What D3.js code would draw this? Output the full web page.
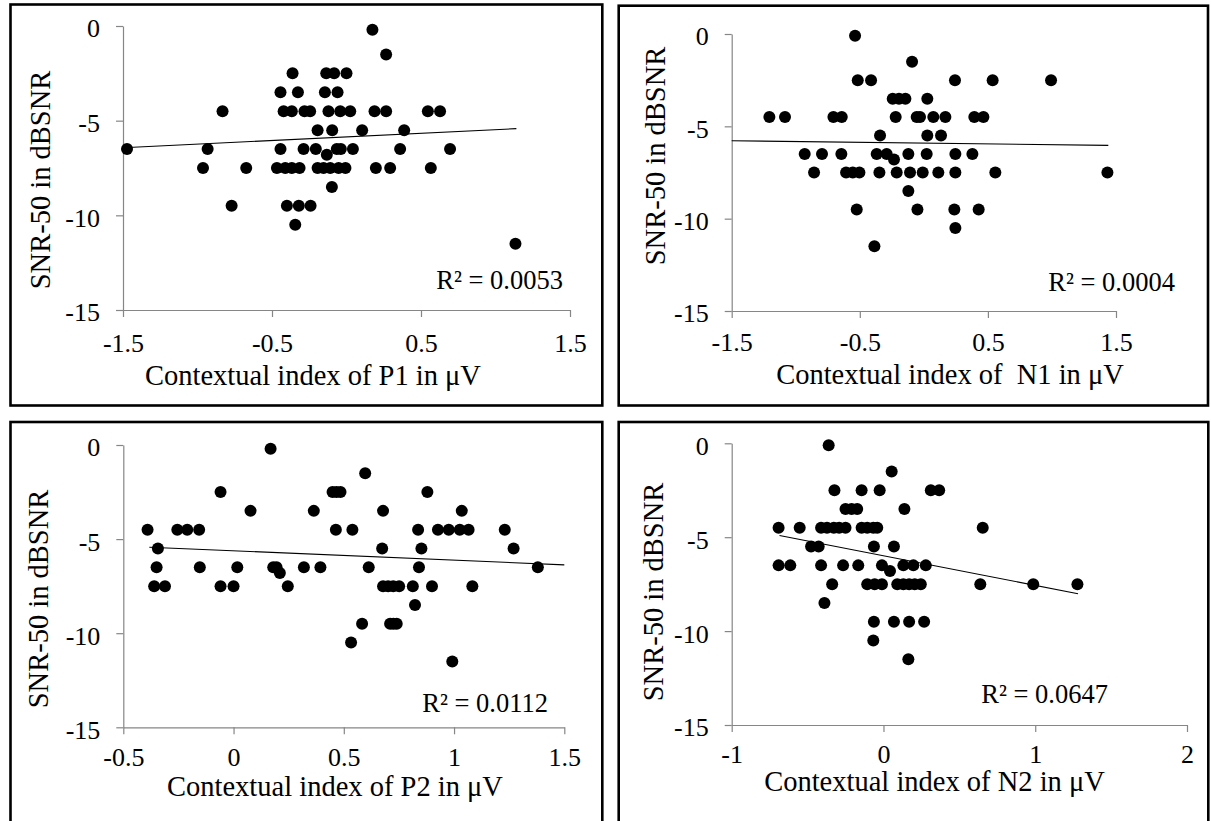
<!DOCTYPE html>
<html>
<head>
<meta charset="utf-8">
<script src="https://cdn.jsdelivr.net/npm/d3@7"></script>
<style>
  html, body { margin: 0; padding: 0; background: #ffffff; }
  svg { display: block; }
  text { font-family: "Liberation Serif", "Times New Roman", serif; fill: #000; }
</style>
</head>
<body>
<script>
// ---------------- DATA ----------------
const yTicks = [0, -5, -10, -15];

// Panel 1: Contextual index of P1
const p1Title = "Contextual index of P1 in μV";
const p1XTicks = [-1.5, -0.5, 0.5, 1.5];
const p1X = [0.174, 0.266,
  -0.362, -0.136, -0.083, 0.0,
  -0.443, -0.326, -0.145, -0.06,
  -0.832, -0.422, -0.367, -0.282, -0.244, -0.121, -0.042, 0.025, 0.188, 0.266, 0.546, 0.628,
  -0.194, -0.096, 0.105, 0.387,
  -1.473, -0.932, -0.443, -0.288, -0.206, -0.065, -0.038, 0.043, 0.36, 0.695,
  -0.132,
  -0.963, -0.673, -0.467, -0.411, -0.367, -0.315, -0.194, -0.154, -0.109, -0.053, -0.007, 0.197, 0.293, 0.566,
  -0.098,
  -0.771, -0.4, -0.32, -0.241,
  -0.344,
  1.134];
const p1Y = [-0.2, -1.5,
  -2.5, -2.5, -2.5, -2.5,
  -3.5, -3.5, -3.5, -3.5,
  -4.5, -4.5, -4.5, -4.5, -4.5, -4.5, -4.5, -4.5, -4.5, -4.5, -4.5, -4.5,
  -5.5, -5.5, -5.5, -5.5,
  -6.5, -6.5, -6.5, -6.5, -6.5, -6.5, -6.5, -6.5, -6.5, -6.5,
  -6.8,
  -7.5, -7.5, -7.5, -7.5, -7.5, -7.5, -7.5, -7.5, -7.5, -7.5, -7.5, -7.5, -7.5, -7.5,
  -8.5,
  -9.5, -9.5, -9.5, -9.5,
  -10.5,
  -11.5];
const p1TrendX = [-1.5, 1.14];
const p1TrendY = [-6.43, -5.42];
const p1R2 = "R² = 0.0053";

// Panel 2: Contextual index of N1
const n1Title = "Contextual index of  N1 in μV";
const n1XTicks = [-1.5, -0.5, 0.5, 1.5];
const n1X = [-0.537, -0.092,
  -0.516, -0.412, 0.243, 0.537, 0.993,
  -0.243, -0.194, -0.144, 0.027,
  -1.206, -1.084, -0.706, -0.641, -0.22, -0.056, -0.03, 0.074, 0.168, 0.394, 0.465,
  -0.342, 0.027, 0.134,
  -0.93, -0.795, -0.644, -0.368, -0.29, -0.121, 0.022, 0.246, 0.379,
  -0.233,
  -0.857, -0.607, -0.555, -0.503, -0.347, -0.212, -0.108, -0.009, 0.113, 0.246, 0.558, 1.433,
  -0.121,
  -0.524, -0.05, 0.238, 0.428,
  0.246,
  -0.386];
const n1Y = [-0.1, -1.5,
  -2.5, -2.5, -2.5, -2.5, -2.5,
  -3.5, -3.5, -3.5, -3.5,
  -4.5, -4.5, -4.5, -4.5, -4.5, -4.5, -4.5, -4.5, -4.5, -4.5, -4.5,
  -5.5, -5.5, -5.5,
  -6.5, -6.5, -6.5, -6.5, -6.5, -6.5, -6.5, -6.5, -6.5,
  -6.8,
  -7.5, -7.5, -7.5, -7.5, -7.5, -7.5, -7.5, -7.5, -7.5, -7.5, -7.5, -7.5,
  -8.5,
  -9.5, -9.5, -9.5, -9.5,
  -10.5,
  -11.5];
const n1TrendX = [-1.5, 1.44];
const n1TrendY = [-5.78, -6.03];
const n1R2 = "R² = 0.0004";

// Panel 3: Contextual index of P2
const p2Title = "Contextual index of P2 in μV";
const p2XTicks = [-0.5, 0, 0.5, 1, 1.5];
const p2X = [0.168, 0.597,
  -0.059, 0.449, 0.467, 0.485, 0.879,
  0.077, 0.364, 0.678, 1.035,
  -0.39, -0.255, -0.21, -0.156, 0.464, 0.539, 0.837, 0.927, 0.976, 1.026, 1.066, 1.23,
  -0.343, 0.674, 0.852, 1.27,
  -0.349, -0.153, 0.017, 0.18, 0.195, 0.319, 0.394, 0.613, 0.841, 1.38,
  0.21,
  -0.36, -0.311, -0.059, 0.0, 0.246, 0.678, 0.701, 0.724, 0.751, 0.813, 0.9, 1.083,
  0.823,
  0.583, 0.71, 0.725, 0.74,
  0.533,
  0.992];
const p2Y = [-0.2, -1.5,
  -2.5, -2.5, -2.5, -2.5, -2.5,
  -3.5, -3.5, -3.5, -3.5,
  -4.5, -4.5, -4.5, -4.5, -4.5, -4.5, -4.5, -4.5, -4.5, -4.5, -4.5, -4.5,
  -5.5, -5.5, -5.5, -5.5,
  -6.5, -6.5, -6.5, -6.5, -6.5, -6.5, -6.5, -6.5, -6.5, -6.5,
  -6.8,
  -7.5, -7.5, -7.5, -7.5, -7.5, -7.5, -7.5, -7.5, -7.5, -7.5, -7.5, -7.5,
  -8.5,
  -9.5, -9.5, -9.5, -9.5,
  -10.5,
  -11.5];
const p2TrendX = [-0.382, 1.5];
const p2TrendY = [-5.43, -6.37];
const p2R2 = "R² = 0.0112";

// Panel 4: Contextual index of N2
const n2Title = "Contextual index of N2 in μV";
const n2XTicks = [-1, 0, 1, 2];
const n2X = [-0.361, 0.054,
  -0.323, -0.144, -0.025, 0.312, 0.367,
  -0.25, -0.21, -0.173, 0.138,
  -0.691, -0.552, -0.411, -0.372, -0.327, -0.292, -0.25, -0.144, -0.107, -0.067, -0.041, 0.654,
  -0.477, -0.427, -0.063, 0.069,
  -0.691, -0.614, -0.411, -0.266, -0.166, -0.01, 0.131, 0.197, 0.279,
  0.043,
  -0.338, -0.107, -0.058, -0.01, 0.091, 0.131, 0.169, 0.206, 0.246, 0.638, 0.987, 1.278,
  -0.389,
  -0.063, 0.069, 0.169, 0.268,
  -0.067,
  0.164];
const n2Y = [-0.1, -1.5,
  -2.5, -2.5, -2.5, -2.5, -2.5,
  -3.5, -3.5, -3.5, -3.5,
  -4.5, -4.5, -4.5, -4.5, -4.5, -4.5, -4.5, -4.5, -4.5, -4.5, -4.5, -4.5,
  -5.5, -5.5, -5.5, -5.5,
  -6.5, -6.5, -6.5, -6.5, -6.5, -6.5, -6.5, -6.5, -6.5,
  -6.8,
  -7.5, -7.5, -7.5, -7.5, -7.5, -7.5, -7.5, -7.5, -7.5, -7.5, -7.5, -7.5,
  -8.5,
  -9.5, -9.5, -9.5, -9.5,
  -10.5,
  -11.5];
const n2TrendX = [-0.685, 1.282];
const n2TrendY = [-4.91, -8.01];
const n2R2 = "R² = 0.0647";

const yTitle = "SNR-50 in dBSNR";

// ---------------- LAYOUT ----------------
const W = 1211, H = 821;
const panels = [
  { title: p1Title, ticks: p1XTicks, xs: p1X, ys: p1Y, tx: p1TrendX, ty: p1TrendY, r2: p1R2,
    box: [10.5, 4.5, 602.3, 405.5], px: [123, 570], py: [26, 310],
    xTitle: [313, 385], yTitle: [40, 180], r2Pos: [563, 289], tickBase: 352 },
  { title: n1Title, ticks: n1XTicks, xs: n1X, ys: n1Y, tx: n1TrendX, ty: n1TrendY, r2: n1R2,
    box: [618.7, 5.7, 1208, 405.5], px: [731.7, 1116], py: [34, 311],
    xTitle: [950, 384], yTitle: [655, 156], r2Pos: [1175, 291], tickBase: 351 },
  { title: p2Title, ticks: p2XTicks, xs: p2X, ys: p2Y, tx: p2TrendX, ty: p2TrendY, r2: p2R2,
    box: [10.5, 422, 602.3, 840], px: [123.3, 564.3], py: [445, 727.3],
    xTitle: [335, 796], yTitle: [37.6, 599], r2Pos: [548, 712], tickBase: 766 },
  { title: n2Title, ticks: n2XTicks, xs: n2X, ys: n2Y, tx: n2TrendX, ty: n2TrendY, r2: n2R2,
    box: [618.7, 422, 1208.3, 840], px: [731.7, 1187], py: [443.3, 725],
    xTitle: [934.5, 791], yTitle: [653, 592], r2Pos: [1108, 703], tickBase: 762.6 }
];

const svg = d3.select("body").append("svg").attr("width", W).attr("height", H);

const axisColor = "#868686";
const fmt = d => String(d); // plain hyphen-minus like the original

panels.forEach(p => {
  const g = svg.append("g");
  // border
  g.append("rect")
    .attr("x", p.box[0]).attr("y", p.box[1])
    .attr("width", p.box[2] - p.box[0]).attr("height", p.box[3] - p.box[1])
    .attr("fill", "none").attr("stroke", "#000").attr("stroke-width", 2.6);

  const x = d3.scaleLinear().domain([p.ticks[0], p.ticks[p.ticks.length - 1]]).range(p.px);
  const y = d3.scaleLinear().domain([0, -15]).range(p.py);

  // x axis
  const xAxis = d3.axisBottom(x).tickValues(p.ticks).tickSize(7).tickFormat(fmt).tickSizeOuter(0);
  const xg = g.append("g").attr("transform", `translate(0,${p.py[1]})`).call(xAxis);
  xg.select(".domain").attr("stroke", axisColor).attr("stroke-width", 1.2);
  xg.selectAll(".tick line").attr("stroke", axisColor).attr("stroke-width", 1.2);
  xg.selectAll(".tick text")
    .attr("y", p.tickBase - p.py[1]).attr("dy", null)
    .style("font-family", '"Liberation Serif", "Times New Roman", serif')
    .style("font-size", "26px").attr("fill", "#000");

  // y axis
  const yAxis = d3.axisLeft(y).tickValues(yTicks).tickSize(7).tickFormat(fmt).tickSizeOuter(0);
  const yg = g.append("g").attr("transform", `translate(${p.px[0]},0)`).call(yAxis);
  yg.select(".domain").attr("stroke", axisColor).attr("stroke-width", 1.2);
  yg.selectAll(".tick line").attr("stroke", axisColor).attr("stroke-width", 1.2);
  yg.selectAll(".tick text")
    .attr("x", -23).attr("dy", "0.42em")
    .style("font-family", '"Liberation Serif", "Times New Roman", serif')
    .style("font-size", "26px").attr("fill", "#000");

  // points
  const pts = p.xs.map((v, i) => ({ x: v, y: p.ys[i] }));
  g.append("g").selectAll("circle").data(pts).join("circle")
    .attr("cx", d => x(d.x)).attr("cy", d => y(d.y)).attr("r", 6)
    .attr("fill", "#000");

  // trendline
  const line = d3.line().x(d => x(d[0])).y(d => y(d[1]));
  g.append("path")
    .datum(p.tx.map((v, i) => [v, p.ty[i]]))
    .attr("d", line).attr("fill", "none").attr("stroke", "#000").attr("stroke-width", 1.1);

  // R²
  g.append("text").attr("x", p.r2Pos[0]).attr("y", p.r2Pos[1])
    .attr("text-anchor", "end").style("font-size", "26.5px").text(p.r2);

  // axis titles
  g.append("text").attr("x", p.xTitle[0]).attr("y", p.xTitle[1])
    .attr("text-anchor", "middle").style("font-size", "28.5px")
    .style("white-space", "pre").attr("xml:space", "preserve").text(p.title);
  g.append("text")
    .attr("transform", `translate(${p.yTitle[0]},${p.yTitle[1]}) rotate(-90)`)
    .attr("text-anchor", "middle").attr("dy", "0.35em").style("font-size", "28.5px")
    .text(yTitle);
});
</script>
</body>
</html>
